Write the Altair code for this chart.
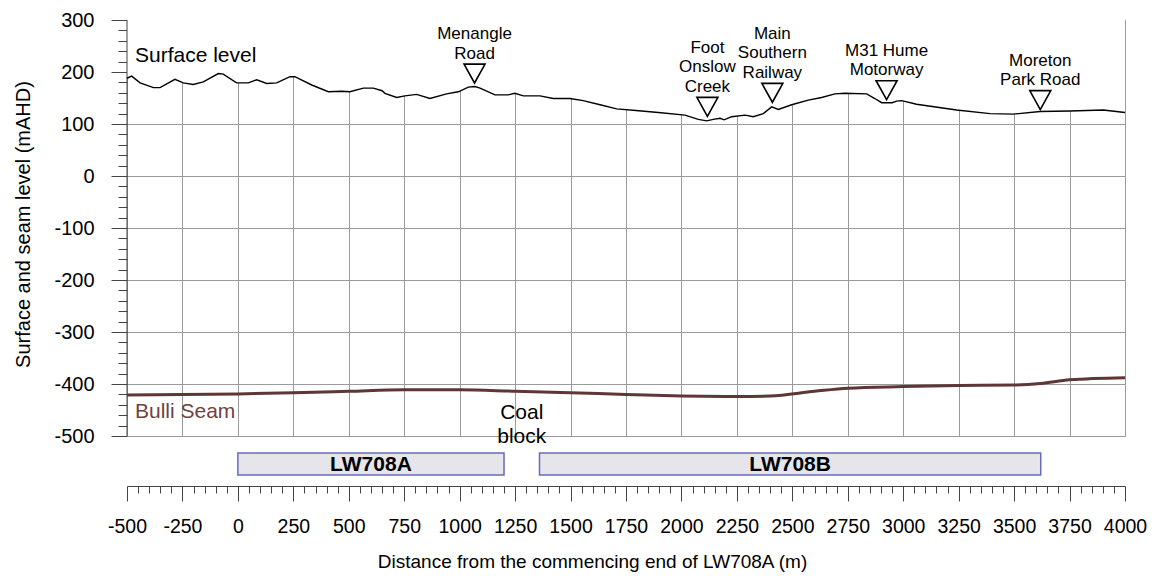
import altair as alt
import pandas as pd

# Ground surface along the section line: distance (m) and level (mAHD)
surface_dist = [-500, -479, -441, -381, -351, -284, -246, -201, -156, -88, -66, -6, 47, 85,
                130, 175, 235, 257, 333, 408, 468, 505, 566, 611, 650, 663, 716, 753, 806,
                866, 941, 994, 1039, 1069, 1092, 1159, 1219, 1249, 1287, 1362, 1422, 1497,
                1557, 1633, 1708, 1795, 1896, 2016, 2076, 2114, 2144, 2174, 2193, 2226, 2287,
                2324, 2369, 2407, 2437, 2497, 2572, 2632, 2692, 2737, 2835, 2872, 2903, 2950,
                2970, 2993, 3060, 3241, 3391, 3496, 3617, 3752, 3902, 4000]
surface_level = [188, 192, 179, 170, 170, 186, 179, 176, 181, 197, 196, 179, 179, 185,
                 178, 179, 191, 191, 175, 162, 163, 162, 169, 169, 164, 159, 151, 154, 157,
                 149, 158, 162, 171, 172, 169, 156, 156, 159, 154, 154, 149, 149,
                 145, 137, 129, 126, 122, 117, 109, 106, 109, 111, 108, 114, 117,
                 114, 120, 133, 128, 137, 146, 151, 158, 159, 158, 149, 141, 141,
                 144, 145, 138, 127, 120, 119, 124, 125, 127, 122]

# Bulli Seam floor level
seam_dist = [-500, 0, 250, 500, 750, 1000, 1250, 1500, 1750, 2000, 2250, 2400, 2600, 2750,
             3000, 3250, 3500, 3620, 3750, 4000]
seam_level = [-421, -419, -417, -414, -411, -411, -414, -417, -420, -423, -424, -423, -414,
              -408, -405, -403, -402, -399, -392, -388]

# Surface features marked along the profile
feature_names = ["Menangle\nRoad", "Foot\nOnslow\nCreek", "Main\nSouthern\nRailway",
                 "M31 Hume\nMotorway", "Moreton\nPark Road"]
feature_dist = [1067, 2117, 2410, 2925, 3618]
feature_level = [197, 133, 160, 165, 146]

# Longwall panels
panel_names = ["LW708A", "LW708B"]
panel_start = [0, 1360]
panel_end = [1200, 3620]

x_ticks = list(range(-500, 4001, 50))
y_ticks = list(range(-500, 301, 20))

FONT = "Liberation Sans"
W, H = 998, 416
LINE_H = 19.5

surface = pd.DataFrame({"dist": surface_dist, "level": surface_level})
seam = pd.DataFrame({"dist": seam_dist, "level": seam_level})
features = pd.DataFrame({
    "dist": feature_dist, "level": feature_level, "name": feature_names,
    "lines": [n.count("\n") + 1 for n in feature_names],
})
panels = pd.DataFrame({"name": panel_names, "start": panel_start, "end": panel_end})

x_scale = alt.Scale(domain=[-500, 4000], nice=False, zero=False)
y_scale = alt.Scale(domain=[-500, 300], nice=False, zero=False)

x_axis = alt.Axis(
    values=x_ticks, offset=50, domain=True, domainColor="#444", tickColor="#444",
    tickSize={"condition": {"test": "datum.value % 250 === 0", "value": 15}, "value": 7},
    labelExpr="datum.value % 250 === 0 ? '' + datum.value : ''",
    labelOverlap=False, labelFlush=False, labelBound=False,
    labelFontSize=19.5, labelFont=FONT, labelColor="black", labelPadding=16,
    grid=True, gridColor="#9a9a9a", gridWidth=1,
    gridOpacity={"condition": {"test": "datum.value % 250 === 0", "value": 1}, "value": 0},
    title="Distance from the commencing end of LW708A (m)", titleFont=FONT, titleFontSize=19,
    titleFontWeight="normal", titleColor="black", titlePadding=17, titleX=465,
    titleAlign="center",
)
y_axis = alt.Axis(
    values=y_ticks, domain=False, tickColor="#444",
    tickSize={"condition": {"test": "datum.value % 100 === 0", "value": 16}, "value": 9},
    labelExpr="datum.value % 100 === 0 ? '' + datum.value : ''",
    labelOverlap=False, labelFlush=False, labelBound=False,
    labelFontSize=20, labelFont=FONT, labelColor="black", labelPadding=17,
    grid=True, gridColor="#9a9a9a", gridWidth=1,
    gridOpacity={"condition": {"test": "datum.value % 100 === 0", "value": 1}, "value": 0},
    title="Surface and seam level (mAHD)", titleFont=FONT, titleFontSize=20,
    titleFontWeight="normal", titleColor="black",
    titleX=-104, titleY=204, titleAlign="center", titleBaseline="middle", titleAngle=270,
)

X = alt.X("dist:Q", scale=x_scale, axis=x_axis)
Y = alt.Y("level:Q", scale=y_scale, axis=y_axis)

# white sky above the ground hides the grid there
sky = alt.Chart(surface).mark_area(color="white", opacity=1, interpolate="linear").encode(
    x=X, y=Y, y2=alt.datum(300)
)

left_edge = alt.Chart(pd.DataFrame({"dist": [-500], "level": [-500], "top": [300]})).mark_rule(
    color="#444", strokeWidth=1
).encode(x=X, y=Y, y2="top:Q")

ground = alt.Chart(surface).mark_line(color="black", strokeWidth=1.4).encode(x=X, y=Y)
seam_line = alt.Chart(seam).mark_line(
    color="#5e3636", strokeWidth=3, interpolate="monotone"
).encode(x=X, y=Y)

markers = alt.Chart(features).mark_point(
    shape="M-1,-0.9L1,-0.9L0,0.9Z", size=441, filled=False, color="black", strokeWidth=1.6,
    opacity=1,
).encode(x=X, y=Y)


def feature_text(n_lines):
    # stacked names sit above their marker, last line just clear of the triangle
    return alt.Chart(features).transform_filter(f"datum.lines === {n_lines}").mark_text(
        lineBreak="\n", baseline="bottom", align="center",
        dy=-11 - (n_lines - 1) * LINE_H, fontSize=17, lineHeight=LINE_H,
        font=FONT, color="black",
    ).encode(x=X, y=Y, text="name:N")


# free-standing labels: left-aligned series names and the centred coal block note
side_labels = pd.DataFrame({
    "dist": [-464, -464],
    "level": [230, -453],
    "text": ["Surface level", "Bulli Seam"],
    "colour": ["black", "#70423f"],
})
side_text = alt.Chart(side_labels).mark_text(
    baseline="middle", align="left", fontSize=21, font=FONT,
).encode(x=X, y=Y, text="text:N", color=alt.Color("colour:N", scale=None))

block_label = pd.DataFrame({"dist": [1280], "level": [-456], "text": ["Coal\nblock"]})
block_text = alt.Chart(block_label).mark_text(
    lineBreak="\n", baseline="middle", align="center", fontSize=21, lineHeight=23.5,
    font=FONT, color="black",
).encode(x=X, y=Y, text="text:N")

panel_rects = alt.Chart(panels).mark_rect(
    fill="#e6e6ea", stroke="#6a6abb", strokeWidth=1.5
).encode(
    x=alt.X("start:Q", scale=x_scale, axis=x_axis), x2="end:Q",
    y=alt.value(H + 17), y2=alt.value(H + 39),
)
panel_text = alt.Chart(panels).transform_calculate(
    mid="(datum.start + datum.end) / 2"
).mark_text(fontSize=21, fontWeight="bold", font=FONT, color="black", baseline="middle").encode(
    x=alt.X("mid:Q", scale=x_scale, axis=x_axis), y=alt.value(H + 29), text="name:N"
)

chart = alt.layer(
    sky, left_edge, ground, seam_line, markers, feature_text(2), feature_text(3),
    side_text, block_text, panel_rects, panel_text
).properties(
    width=W, height=H,
    autosize=alt.AutoSizeParams(type="none"),
    padding={"left": 127, "top": 20, "right": 29, "bottom": 140},
).configure_view(stroke=None).configure(background="white")

chart.save("out.html", embed_options={"renderer": "svg", "actions": False})
